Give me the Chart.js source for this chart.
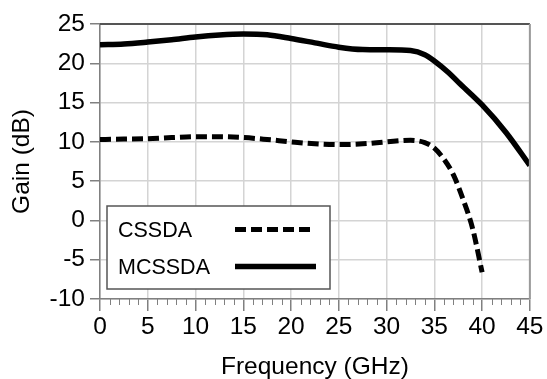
<!DOCTYPE html>
<html>
<head>
<meta charset="utf-8">
<script src="https://cdn.jsdelivr.net/npm/chart.js@4"></script>
<style>
  html, body { margin: 0; padding: 0; background: #fff; }
  #wrap { width: 547px; height: 379px; position: relative; }
</style>
</head>
<body>
<div id="wrap"><canvas id="chart"></canvas></div>
<script>
// CSSDA (dashed)
const freqCSSDA = [0, 2.5, 5, 7.5, 10, 12.5, 15, 17.5, 20, 22.5, 25, 27.5, 30, 32.5, 34, 35, 36, 37, 38, 39, 40];
const gainCSSDA = [10.3, 10.35, 10.4, 10.55, 10.65, 10.65, 10.55, 10.3, 10.0, 9.75, 9.65, 9.75, 10.0, 10.2, 9.9, 9.2, 7.8, 5.8, 2.7, -1.0, -6.6];
// MCSSDA (solid)
const freqMCSSDA = [0, 2.5, 5, 7.5, 10, 12.5, 15, 17.5, 20, 22.5, 25, 27.5, 30, 32.5, 34, 35, 36.5, 37.5, 40, 42.5, 45];
const gainMCSSDA = [22.35, 22.45, 22.7, 23.0, 23.35, 23.6, 23.72, 23.62, 23.15, 22.6, 22.05, 21.75, 21.72, 21.62, 21.1, 20.3, 18.8, 17.6, 14.7, 11.2, 7.0];

const xTicksMajor = [0, 5, 10, 15, 20, 25, 30, 35, 40, 45];
const yTicks = [-10, -5, 0, 5, 10, 15, 20, 25];

const FONT = "'Liberation Sans', Arial, sans-serif";
const GRID = '#d4d4d4';
const AXIS = '#808080';

const toPoints = (xs, ys) => xs.map((x, i) => ({ x: x, y: ys[i] }));

const framePlugin = {
    id: 'frame',
    afterDraw(chart) {
        const ctx = chart.ctx;
        const a = chart.chartArea;
        const xs = chart.scales.x;
        ctx.save();
        // minor ticks on x axis
        ctx.strokeStyle = AXIS;
        ctx.lineWidth = 1;
        for (let v = xs.min; v <= xs.max; v++) {
            if (v % 5 === 0) continue;
            const px = Math.round(xs.getPixelForValue(v)) + 0.5;
            ctx.beginPath();
            ctx.moveTo(px, a.bottom);
            ctx.lineTo(px, a.bottom + 6);
            ctx.stroke();
        }
        // top and right frame
        ctx.lineWidth = 2;
        ctx.strokeStyle = '#555';
        ctx.beginPath();
        ctx.moveTo(a.left, a.top);
        ctx.lineTo(a.right, a.top);
        ctx.stroke();
        ctx.strokeStyle = '#9a9a9a';
        ctx.beginPath();
        ctx.moveTo(a.right, a.top);
        ctx.lineTo(a.right, a.bottom);
        ctx.stroke();

        // legend box
        const bx = a.left + 7, by = a.bottom - 93, bw = 223, bh = 83;
        ctx.fillStyle = '#fff';
        ctx.fillRect(bx, by, bw, bh);
        ctx.strokeStyle = '#555';
        ctx.lineWidth = 1.5;
        ctx.strokeRect(bx, by, bw, bh);
        ctx.font = '21.5px ' + FONT;
        ctx.fillStyle = '#000';
        ctx.textBaseline = 'alphabetic';
        const rows = [by + 31, by + 68];
        chart.data.datasets.forEach((ds, i) => {
            ctx.fillText(ds.label, bx + 11, rows[i]);
            ctx.strokeStyle = ds.borderColor;
            ctx.lineWidth = ds.borderWidth;
            ctx.setLineDash(ds.borderDash || []);
            ctx.lineCap = 'butt';
            ctx.beginPath();
            const ly = rows[i] - 7.5;
            ctx.moveTo(bx + 128, ly);
            ctx.lineTo(bx + (ds.borderDash ? 205 : 209), ly);
            ctx.stroke();
            ctx.setLineDash([]);
        });
        ctx.restore();
    }
};

const ctx = document.getElementById('chart').getContext('2d');
const myChart = new Chart(ctx, {
    type: 'line',
    data: {
        datasets: [
            {
                label: 'CSSDA',
                data: toPoints(freqCSSDA, gainCSSDA),
                borderColor: '#000',
                borderWidth: 5,
                borderDash: [11, 5],
                cubicInterpolationMode: 'monotone',
                pointRadius: 0,
                fill: false,
            },
            {
                label: 'MCSSDA',
                data: toPoints(freqMCSSDA, gainMCSSDA),
                borderColor: '#000',
                borderWidth: 5.5,
                cubicInterpolationMode: 'monotone',
                pointRadius: 0,
                fill: false,
            },
        ],
    },
    options: {
        responsive: true,
        maintainAspectRatio: false,
        animation: false,
        layout: { padding: { top: 24, right: 14, bottom: 0, left: 0 } },
        plugins: {
            legend: { display: false },
            tooltip: { enabled: false },
        },
        scales: {
            x: {
                type: 'linear',
                min: 0,
                max: 45,
                afterFit: (scale) => { scale.height = 80; },
                afterBuildTicks: (scale) => {
                    const t = [];
                    for (let v = 0; v <= 45; v++) t.push({ value: v });
                    scale.ticks = t;
                },
                ticks: {
                    autoSkip: false,
                    maxRotation: 0,
                    padding: 3.5,
                    color: '#000',
                    font: { family: FONT, size: 24.5, lineHeight: 1 },
                    callback: (v) => (xTicksMajor.includes(v) ? String(v) : ''),
                },
                grid: {
                    color: (c) => (c.tick && c.tick.value % 5 === 0 ? GRID : 'rgba(0,0,0,0)'),
                    tickColor: (c) => (c.tick && c.tick.value % 5 === 0 ? AXIS : 'rgba(0,0,0,0)'),
                    tickLength: 12,
                    lineWidth: 1.5,
                },
                border: { color: AXIS, width: 1.5 },
                title: {
                    display: true,
                    text: 'Frequency (GHz)',
                    color: '#000',
                    font: { family: FONT, size: 24.5, lineHeight: 1 },
                    padding: { top: 0, bottom: 0 },
                },
            },
            y: {
                type: 'linear',
                min: -10,
                max: 25,
                afterFit: (scale) => { scale.width = 100; },
                afterBuildTicks: (scale) => {
                    scale.ticks = yTicks.map((v) => ({ value: v }));
                },
                ticks: {
                    padding: 5,
                    color: '#000',
                    font: { family: FONT, size: 24.5, lineHeight: 1 },
                },
                grid: {
                    color: GRID,
                    tickColor: AXIS,
                    tickLength: 10,
                    lineWidth: 1.5,
                },
                border: { color: AXIS, width: 1.5 },
                title: {
                    display: true,
                    text: 'Gain (dB)',
                    color: '#000',
                    font: { family: FONT, size: 24.5, lineHeight: 1 },
                    padding: { top: 10, bottom: 0 },
                },
            },
        },
    },
    plugins: [framePlugin],
});
</script>
</body>
</html>
